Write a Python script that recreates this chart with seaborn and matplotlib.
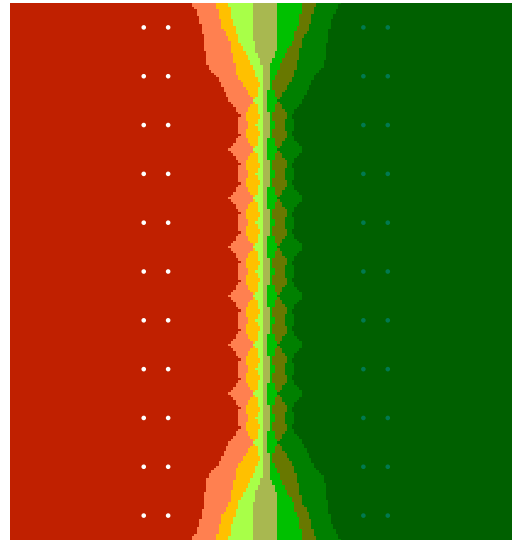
import numpy as np
import pandas as pd
import matplotlib
matplotlib.use("Agg")
import matplotlib.pyplot as plt
from matplotlib.colors import ListedColormap, BoundaryNorm
import seaborn as sns

# Training points: two columns per class, eleven rows each
rows = [-10, -8, -6, -4, -2, 0, 2, 4, 6, 8, 10]
left_cols = [-5, -4]
right_cols = [4, 5]
n_neighbors = 10

# Probability bands for the right-hand class and their colours
levels = [0, 0.1, 0.2, 0.3, 0.4, 0.6, 0.7, 0.8, 0.9, 1.0]
band_colors = ["#C02000", "#FF8050", "#FFC000", "#A8FF48", "#A8B850",
               "#00C000", "#687800", "#008000", "#006000"]
point_colors = {"left": "#FFFFFF", "right": "#007A50"}

pts = pd.DataFrame(
    [(x, y, "left") for x in left_cols for y in rows]
    + [(x, y, "right") for x in right_cols for y in rows],
    columns=["x", "y", "label"],
)

# Distance-weighted k-nearest-neighbour probability on a fine grid
xlim = (-10.48, 10.09)
ylim = (-11.0, 11.0)
step = 0.1
gx = np.arange(xlim[0], xlim[1] + step, step)
gy = np.arange(ylim[0], ylim[1] + step, step)
XX, YY = np.meshgrid(gx, gy)
grid = np.c_[XX.ravel(), YY.ravel()]
P = pts[["x", "y"]].to_numpy(float)
is_right = (pts["label"] == "right").to_numpy(float)
dist = np.sqrt(((grid[:, None, :] - P[None, :, :]) ** 2).sum(-1))
nearest = np.argsort(dist, axis=1, kind="stable")[:, :n_neighbors]
w = 1.0 / np.maximum(np.take_along_axis(dist, nearest, 1), 1e-9)
prob = ((w * is_right[nearest]).sum(1) / w.sum(1)).reshape(XX.shape)

fig = plt.figure(figsize=(5.12, 5.40), dpi=100)
ax = fig.add_axes([10 / 512, 0, 502 / 512, 537 / 540])
cmap = ListedColormap(band_colors)
norm = BoundaryNorm(levels, cmap.N)
ax.pcolormesh(gx, gy, prob, cmap=cmap, norm=norm, shading="nearest")

sns.scatterplot(data=pts, x="x", y="y", hue="label", palette=point_colors,
                s=11, edgecolor="none", legend=False, ax=ax)

ax.set_xlim(*xlim)
ax.set_ylim(*ylim)
ax.set_axis_off()
fig.savefig("out.png", dpi=100)
